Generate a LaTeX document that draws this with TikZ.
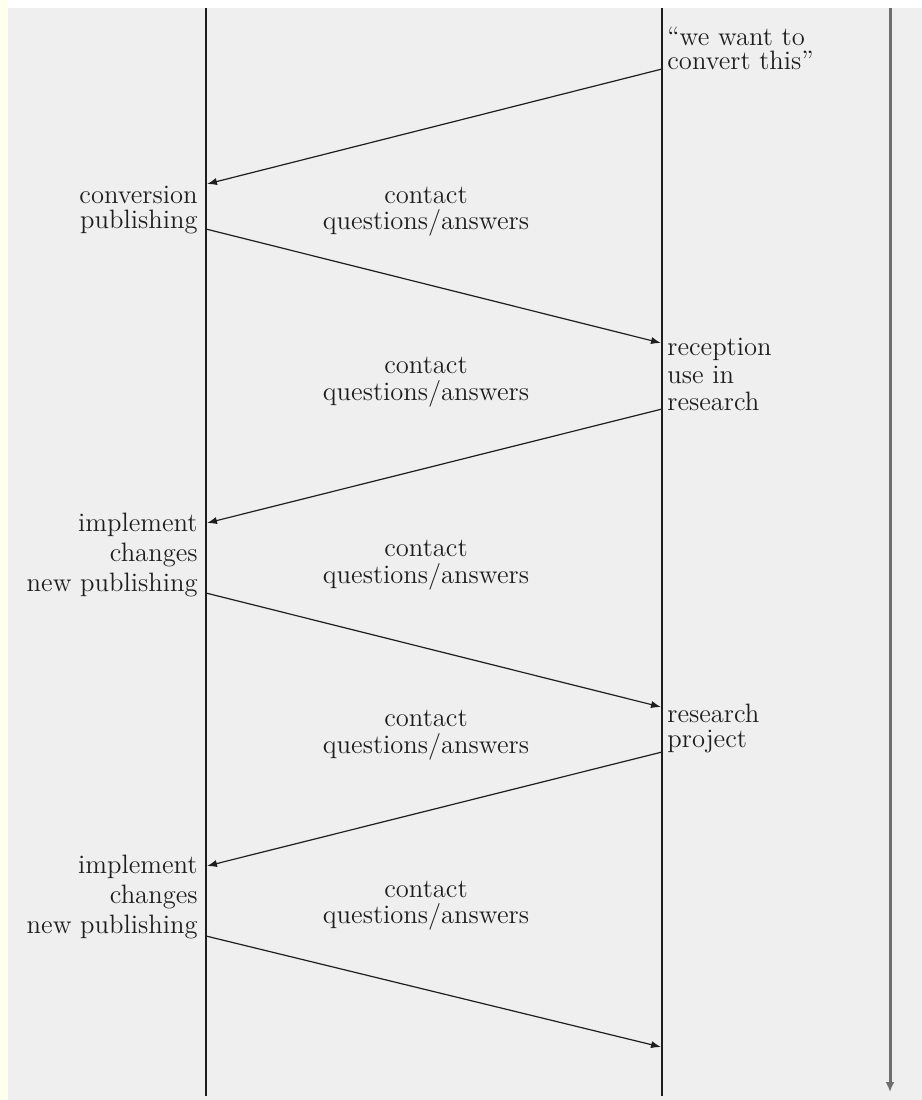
\documentclass[tikz,border=0pt]{standalone}
\usetikzlibrary{arrows.meta}
\definecolor{bgray}{HTML}{EFEFEF}
\definecolor{cream}{HTML}{FFFFEE}
\definecolor{axisgray}{HTML}{6E6E6E}
\definecolor{ink}{HTML}{1E1E1E}
\begin{document}
\begin{tikzpicture}[x=0.5pt,y=-0.5pt,
  lbl/.style={font=\fontsize{13.3}{15}\selectfont, inner sep=0pt, text=ink},
  lft/.style={lbl, anchor=base east},
  rgt/.style={lbl, anchor=base west},
  ctr/.style={lbl, anchor=base},
  life/.style={line width=0.75pt, draw=ink},
  msg/.style={line width=0.6pt, draw=ink, -{Latex[length=5pt,width=3.6pt]}},
  timeax/.style={line width=1.5pt, draw=axisgray, -{Latex[length=5pt,width=4.5pt]}}]
\useasboundingbox (0,0) rectangle (922,1100);
\fill[white] (0,0) rectangle (922,1100);
\fill[cream] (0,0) rectangle (8,1100);
\fill[bgray] (8,8) rectangle (922,1100);

% lifelines
\coordinate (Ltop) at (206,8);  \coordinate (Lbot) at (206,1096);
\coordinate (Mtop) at (662,8);  \coordinate (Mbot) at (662,1096);
\coordinate (Ttop) at (890,8);  \coordinate (Tbot) at (890,1092);
\draw[life] (Ltop) -- (Lbot);
\draw[life] (Mtop) -- (Mbot);
\draw[timeax] (Ttop) -- (Tbot);

% message endpoints
\coordinate (m1s) at (662,69);   \coordinate (m1e) at (207,184);
\coordinate (m2s) at (206,229);  \coordinate (m2e) at (661,343);
\coordinate (m3s) at (662,409);  \coordinate (m3e) at (207,523);
\coordinate (m4s) at (206,593);  \coordinate (m4e) at (661,707);
\coordinate (m5s) at (662,752);  \coordinate (m5e) at (207,866);
\coordinate (m6s) at (206,936);  \coordinate (m6e) at (661,1047);
\draw[msg] (m1s) -- (m1e);
\draw[msg] (m2s) -- (m2e);
\draw[msg] (m3s) -- (m3e);
\draw[msg] (m4s) -- (m4e);
\draw[msg] (m5s) -- (m5e);
\draw[msg] (m6s) -- (m6e);

% left labels
\node[lft] (l1a) at (198,203) {conversion};
\node[lft] (l1b) at (198,228) {publishing};
\node[lft] (l2a) at (198,531) {implement};
\node[lft] (l2b) at (198,561) {changes};
\node[lft] (l2c) at (198,591) {new publishing};
\node[lft] (l3a) at (198,873) {implement};
\node[lft] (l3b) at (198,903) {changes};
\node[lft] (l3c) at (198,933) {new publishing};

% right labels
\node[rgt] (r1a) at (667,45) {``we want to};
\node[rgt] (r1b) at (667,69) {convert this''};
\node[rgt] (r2a) at (667,355) {reception};
\node[rgt] (r2b) at (667,383) {use in};
\node[rgt] (r2c) at (667,410) {research};
\node[rgt] (r3a) at (667,722) {research};
\node[rgt] (r3b) at (667,747) {project};

% centre labels
\node[ctr] (c1a) at (426,203) {contact};
\node[ctr] (c1b) at (426,229) {questions/answers};
\node[ctr] (c2a) at (426,373) {contact};
\node[ctr] (c2b) at (426,400) {questions/answers};
\node[ctr] (c3a) at (426,556) {contact};
\node[ctr] (c3b) at (426,583) {questions/answers};
\node[ctr] (c4a) at (426,726) {contact};
\node[ctr] (c4b) at (426,753) {questions/answers};
\node[ctr] (c5a) at (426,897) {contact};
\node[ctr] (c5b) at (426,923) {questions/answers};
\end{tikzpicture}
\end{document}
